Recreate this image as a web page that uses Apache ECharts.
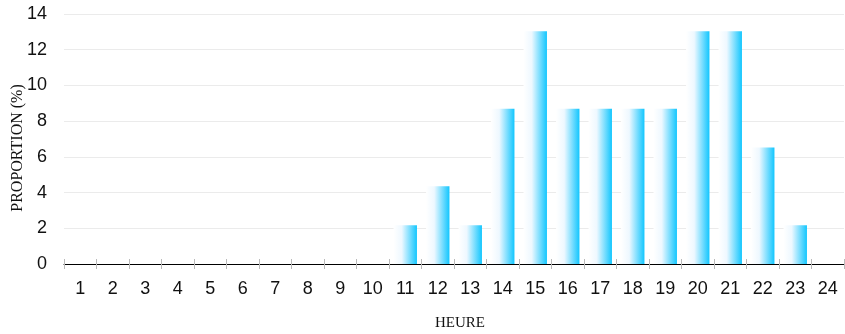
<!DOCTYPE html>
<html>
<head>
<meta charset="utf-8">
<script src="https://cdn.jsdelivr.net/npm/echarts@6/dist/echarts.min.js"></script>
<style>
  html, body { margin: 0; padding: 0; background: #fff; }
  #chart { width: 845px; height: 334px; }
</style>
</head>
<body>
<div id="chart"></div>
<script>
// Hour of day (1..24) and share of events per hour, in percent
const hours = ['1','2','3','4','5','6','7','8','9','10','11','12','13','14','15','16','17','18','19','20','21','22','23','24'];
const proportion = [0,0,0,0,0,0,0,0,0,0,2.17,4.35,2.17,8.70,13.04,8.70,8.70,8.70,8.70,13.04,13.04,6.52,2.17,0];
const yTicks = { min: 0, max: 14, interval: 2 };
const xTitle = 'HEURE';
const yTitle = 'PROPORTION (%)';

const chart = echarts.init(document.getElementById('chart'));
const sans = '"Liberation Sans", Arial, sans-serif';
const serif = '"Liberation Serif", "Times New Roman", serif';

chart.setOption({
  animation: false,
  grid: { left: 64, right: 1, top: 14, bottom: 70 },
  xAxis: [
    {
      type: 'category',
      data: hours,
      position: 'bottom',
      axisLine: { lineStyle: { color: '#000', width: 1 } },
      axisTick: { show: true, length: 5, lineStyle: { color: '#bbb' } },
      axisLabel: { color: '#111', fontFamily: sans, fontSize: 18, margin: 16 },
      splitLine: { show: false }
    },
    {
      type: 'category',
      data: hours,
      position: 'bottom',
      axisLine: { show: false },
      axisTick: { show: true, inside: true, length: 5, lineStyle: { color: '#bbb' } },
      axisLabel: { show: false },
      splitLine: { show: false }
    }
  ],
  yAxis: {
    type: 'value',
    min: yTicks.min,
    max: yTicks.max,
    interval: yTicks.interval,
    axisLine: { show: false },
    axisTick: { show: false },
    axisLabel: { color: '#111', fontFamily: sans, fontSize: 18, margin: 17 },
    splitLine: { lineStyle: { color: '#ebebeb', width: 1 } }
  },
  graphic: [
    {
      type: 'text',
      x: 460, y: 323,
      style: { text: xTitle, font: '15px ' + serif, fill: '#111', align: 'center', verticalAlign: 'middle' }
    },
    {
      type: 'text',
      x: 18, y: 148,
      rotation: Math.PI / 2,
      style: { text: yTitle, font: '16px ' + serif, fill: '#111', align: 'center', verticalAlign: 'middle' }
    }
  ],
  series: [{
    type: 'bar',
    data: proportion,
    barWidth: '72%',
    itemStyle: {
      color: new echarts.graphic.LinearGradient(0, 0, 1, 0, [
        { offset: 0, color: '#ffffff' },
        { offset: 0.35, color: '#eef8ff' },
        { offset: 1, color: '#12c6fe' }
      ])
    }
  }]
});
</script>
</body>
</html>
